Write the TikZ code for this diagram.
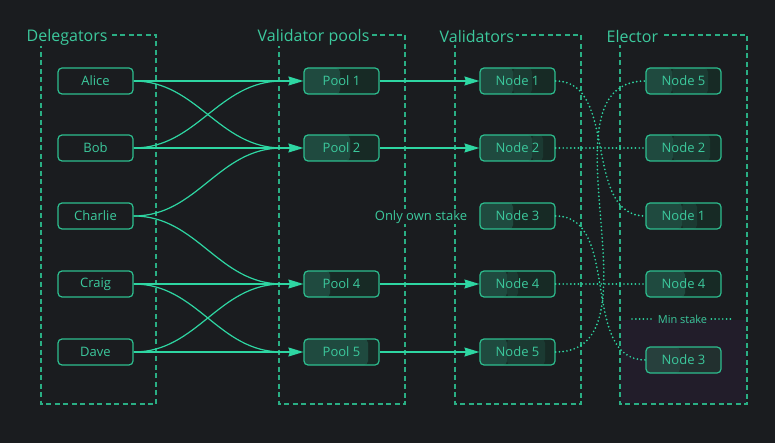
\documentclass[tikz,border=0pt]{standalone}
\usepackage{fontspec}
\setmainfont{Open Sans}
\usetikzlibrary{arrows.meta,calc}
\definecolor{bg}{HTML}{1A1C1F}
\definecolor{grn}{HTML}{2ED6A2}
\definecolor{edgec}{HTML}{2DBE8F}
\definecolor{txt}{HTML}{3CC99D}
\definecolor{dashc}{HTML}{2AAE84}
\definecolor{fa}{HTML}{1F4A3F}
\definecolor{fb}{HTML}{1B3A32}
\definecolor{fc}{HTML}{172A25}
\definecolor{ga}{HTML}{27403D}
\definecolor{gb}{HTML}{22302F}
\definecolor{purp}{HTML}{221D2A}
\begin{document}
\begin{tikzpicture}[x=1pt,y=-1pt,
  nbox/.style={draw=edgec, line width=1.2pt, rounded corners=4pt,
    minimum width=75pt, minimum height=26pt, inner sep=0pt,
    text=txt, font=\fontsize{13}{15}\selectfont},
  bar/.style n args={2}{fill=fc, path picture={
      \fill[fa] (path picture bounding box.south west) rectangle
        ([xshift=#1pt]path picture bounding box.north west);
      \fill[fb] ([xshift=#1pt]path picture bounding box.south west) rectangle
        ([xshift=#2pt]path picture bounding box.north west);}},
  greybar/.style={fill=gb, path picture={
      \fill[ga] (path picture bounding box.south west) rectangle
        ([xshift=#1pt]path picture bounding box.north west);}},
  grp/.style={draw=dashc, line width=1.2pt, dash pattern=on 5pt off 3.5pt},
  ttl/.style={anchor=west, fill=bg, inner sep=1.5pt, text=txt,
    font=\fontsize{16}{19}\selectfont},
  lbl/.style={text=txt, font=\fontsize{13}{15}\selectfont},
  arr/.style={draw=grn, line width=1.3pt,
    -{Stealth[length=15pt,width=9pt,inset=1.5pt]}},
  crv/.style={draw=grn, line width=1.2pt},
  dotl/.style={draw=grn, line width=1.9pt, line cap=round,
    dash pattern=on 0pt off 3.8pt}
]
\useasboundingbox[fill=bg] (0,0) rectangle (775,443);

% shaded min-stake region
\fill[purp] (621,320) rectangle (746,403);

% group boxes
\draw[grp] (41,35) rectangle (156,404);
\draw[grp] (279,35) rectangle (405,404);
\draw[grp] (455,35) rectangle (581,404);
\draw[grp] (620,35) rectangle (747,404);
\node[ttl] (tdel) at (25,37) {Delegators};
\node[ttl] (tpool) at (256,37) {Validator pools};
\node[ttl] (tval) at (438,37) {Validators};
\node[ttl] (telec) at (605,37) {Elector};

% delegators
\node[nbox] (alice)   at (95.5,81)  {Alice};
\node[nbox] (bob)     at (95.5,148) {Bob};
\node[nbox] (charlie) at (95.5,216) {Charlie};
\node[nbox] (craig)   at (95.5,284) {Craig};
\node[nbox] (dave)    at (95.5,352) {Dave};

% pools
\node[nbox, bar={36}{36}] (p1) at (341.5,81)  {Pool 1};
\node[nbox, bar={46}{46}] (p2) at (341.5,148) {Pool 2};
\node[nbox, bar={26}{26}] (p4) at (341.5,284) {Pool 4};
\node[nbox, bar={64}{64}] (p5) at (341.5,352) {Pool 5};

% validators
\node[nbox, bar={33}{52}] (v1) at (517.5,81)  {Node 1};
\node[nbox, bar={52}{63}] (v2) at (517.5,148) {Node 2};
\node[nbox, bar={33}{33}] (v3) at (517.5,216) {Node 3};
\node[nbox, bar={27}{38}] (v4) at (517.5,284) {Node 4};
\node[nbox, bar={27}{65}] (v5) at (517.5,352) {Node 5};

% elector
\node[nbox, bar={26}{62}] (e5) at (683.5,81)  {Node 5};
\node[nbox, bar={27}{64}] (e2) at (683.5,148) {Node 2};
\node[nbox, bar={36}{51}] (e1) at (683.5,216) {Node 1};
\node[nbox, bar={39}{39}] (e4) at (683.5,284) {Node 4};
\node[nbox, greybar={34}] (e3) at (683.5,360) {Node 3};

% labels
\node[lbl, fill=bg, inner sep=1pt] (own) at (421,217) {Only own stake};
\node[text=txt, font=\fontsize{11}{13}\selectfont, inner sep=4pt] (mins) at (682.5,319) {Min stake};
\coordinate (msl) at (632,319);
\coordinate (msr) at (733,319);
\draw[dotl] (msl) -- (mins.west);
\draw[dotl] (mins.east) -- (msr);

% merge points before pools
\coordinate (p1in) at (282,81);
\coordinate (p2in) at (282,148);
\coordinate (p4in) at (282,284);
\coordinate (p5in) at (282,352);

% delegator -> pool
\draw[arr] (alice.east) -- (p1.west);
\draw[arr] (bob.east) -- (p2.west);
\draw[arr] (craig.east) -- (p4.west);
\draw[arr] (dave.east) -- (p5.west);
\draw[crv] (alice.east) to[out=0,in=180] (p2in);
\draw[crv] (bob.east) to[out=0,in=180] (p1in);
\draw[crv] (charlie.east) to[out=0,in=180] (p2in);
\draw[crv] (charlie.east) to[out=0,in=180] (p4in);
\draw[crv] (craig.east) to[out=0,in=180] (p5in);
\draw[crv] (dave.east) to[out=0,in=180] (p4in);

% pool -> validator
\draw[arr] (p1.east) -- (v1.west);
\draw[arr] (p2.east) -- (v2.west);
\draw[arr] (p4.east) -- (v4.west);
\draw[arr] (p5.east) -- (v5.west);

% validator -> elector
\draw[dotl] (v1.east) to[out=0,in=180] (e1.west);
\draw[dotl] (v2.east) -- (e2.west);
\draw[dotl] (v3.east) to[out=0,in=180] (e3.west);
\draw[dotl] (v4.east) -- (e4.west);
\draw[dotl] (v5.east) to[out=0,in=180] (e5.west);
\end{tikzpicture}
\end{document}
